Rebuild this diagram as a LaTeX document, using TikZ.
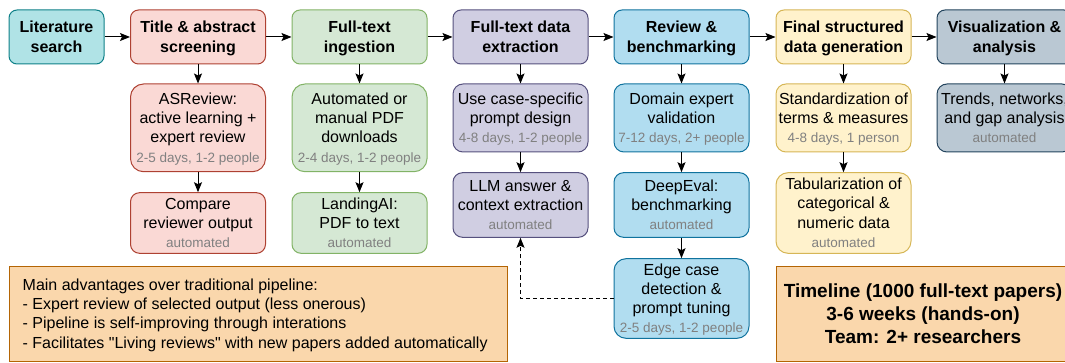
\documentclass[tikz,border=0pt]{standalone}
\usepackage{fontspec}
\setmainfont{Liberation Sans}[Ligatures=TeXOff]
\usetikzlibrary{arrows.meta}

% palette: fill / stroke pairs
\definecolor{tealF}{HTML}{B0E3E6}\definecolor{tealD}{HTML}{0E8088}
\definecolor{redF}{HTML}{FAD9D5}\definecolor{redD}{HTML}{AE4132}
\definecolor{greenF}{HTML}{D5E8D4}\definecolor{greenD}{HTML}{82B366}
\definecolor{purpleF}{HTML}{D0CEE2}\definecolor{purpleD}{HTML}{56517E}
\definecolor{blueF}{HTML}{B1DDF0}\definecolor{blueD}{HTML}{10739E}
\definecolor{yellowF}{HTML}{FFF2CC}\definecolor{yellowD}{HTML}{D6B656}
\definecolor{slateF}{HTML}{BAC8D3}\definecolor{slateD}{HTML}{23445D}
\definecolor{orangeF}{HTML}{FAD7AC}\definecolor{orangeD}{HTML}{B46504}
\definecolor{subgray}{HTML}{808080}

% line strut: fixes first-baseline and last-depth of a text block
\newcommand\ls{\rule[-4.1pt]{0pt}{19.2pt}}
% small grey effort line under a step description
\newcommand\subline[1]{{\color{subgray}\fontsize{13.5}{19.2}\selectfont #1}}

\begin{document}
\begin{tikzpicture}[x=1pt,y=-1pt,
  box/.style={draw, line width=1pt, align=center, inner sep=0pt,
    font=\fontsize{16}{19.2}\selectfont, text=black},
  stage/.style={box, font=\bfseries\fontsize{16}{19.2}\selectfont,
    minimum width=135pt, minimum height=54pt, rounded corners=8pt},
  task/.style={box, minimum width=135pt},
  palTeal/.style={fill=tealF, draw=tealD},
  palRed/.style={fill=redF, draw=redD},
  palGreen/.style={fill=greenF, draw=greenD},
  palPurple/.style={fill=purpleF, draw=purpleD},
  palBlue/.style={fill=blueF, draw=blueD},
  palYellow/.style={fill=yellowF, draw=yellowD},
  palSlate/.style={fill=slateF, draw=slateD},
  palOrange/.style={fill=orangeF, draw=orangeD},
  arr/.style={line width=1pt, -{Stealth[length=10pt,width=8pt,inset=2pt]}},
]
\useasboundingbox (0,0) rectangle (1065,363);

% ---- pipeline stages (top row)
\node[stage, palTeal, minimum width=95pt] (lit) at (56.5,37) {\ls Literature\\search\ls};
\node[stage, palRed] (title) at (198,37) {\ls Title \& abstract\\screening\ls};
\node[stage, palGreen] (ingest) at (359.5,37) {\ls Full-text\\ingestion\ls};
\node[stage, palPurple] (extract) at (520.5,37) {\ls Full-text data\\extraction\ls};
\node[stage, palBlue] (review) at (681.5,37) {\ls Review \&\\benchmarking\ls};
\node[stage, palYellow] (final) at (843.5,37) {\ls Final structured\\data generation\ls};
\node[stage, palSlate] (vis) at (1004.5,37) {\ls Visualization \&\\analysis\ls};

% ---- second row
\node[task, palRed, minimum height=87.7pt, rounded corners=13pt] (asreview) at (198,127.85)
  {\ls ASReview:\\active learning +\\expert review\\\subline{2-5 days, 1-2 people}\ls};
\node[task, palGreen, minimum height=87.7pt, rounded corners=13pt] (pdfdl) at (359.5,127.85)
  {\ls Automated or\\manual PDF\\downloads\\\subline{2-4 days, 1-2 people}\ls};
\node[task, palPurple, minimum height=68pt, rounded corners=10pt] (prompt) at (520.5,118)
  {\ls Use case-specific\\prompt design\\\subline{4-8 days, 1-2 people}\ls};
\node[task, palBlue, minimum height=68pt, rounded corners=10pt] (domain) at (681.5,118)
  {\ls Domain expert\\validation\\\subline{7-12 days, 2+ people}\ls};
\node[task, palYellow, minimum height=68pt, rounded corners=10pt] (standard) at (843.5,118)
  {\ls Standardization of\\terms \& measures\\\subline{4-8 days, 1 person}\ls};
\node[task, palSlate, minimum height=68pt, rounded corners=10pt] (trends) at (1004.5,118)
  {\ls Trends, networks,\\and gap analysis\\\subline{automated}\ls};

% ---- third row
\node[task, palRed, minimum height=60.6pt, rounded corners=9pt] (compare) at (198,223)
  {\ls Compare\\reviewer output\\\subline{automated}\ls};
\node[task, palGreen, minimum height=60.6pt, rounded corners=9pt] (landing) at (359.5,223)
  {\ls LandingAI:\\PDF to text\\\subline{automated}\ls};
\node[task, palPurple, minimum height=64.6pt, rounded corners=9.5pt] (llm) at (520.5,205)
  {\ls LLM answer \&\\context extraction\\\subline{automated}\ls};
\node[task, palBlue, minimum height=64.6pt, rounded corners=9.5pt] (deepeval) at (681.5,205)
  {\ls DeepEval:\\benchmarking\\\subline{automated}\ls};
\node[task, palYellow, minimum height=80.6pt, rounded corners=12pt] (tabular) at (843.5,213)
  {\ls Tabularization of\\categorical \&\\numeric data\\\subline{automated}\ls};

% ---- fourth row
\node[task, palBlue, minimum height=79.6pt, rounded corners=12pt] (edge) at (681.5,298.5)
  {\ls Edge case\\detection \&\\prompt tuning\\\subline{2-5 days, 1-2 people}\ls};

% ---- summary boxes
\node[box, palOrange, minimum width=498pt, minimum height=94.3pt] (advantages) at (258.3,313.85) {};
\node[box, draw=none, align=left, anchor=west] (advtext) at ([xshift=13.4pt]advantages.west)
  {\ls Main advantages over traditional pipeline:\\
   - Expert review of selected output (less onerous)\\
   - Pipeline is self-improving through interations\\
   - Facilitates "Living reviews" with new papers added automatically\ls};
\node[box, palOrange, minimum width=294pt, minimum height=94.3pt,
  font=\bfseries\fontsize{19}{22.8}\selectfont] (timeline) at (923,313.85)
  {Timeline (1000 full-text papers)\\3-6 weeks (hands-on)\\Team: 2+ researchers};

% ---- connectors
\foreach \a/\b in {lit/title, title/ingest, ingest/extract, extract/review,
                   review/final, final/vis,
                   title/asreview, asreview/compare,
                   ingest/pdfdl, pdfdl/landing,
                   extract/prompt, prompt/llm,
                   review/domain, domain/deepeval, deepeval/edge,
                   final/standard, standard/tabular,
                   vis/trends}
  \draw[arr] (\a) -- (\b);

% feedback loop from prompt tuning back to extraction
\draw[arr, dash pattern=on 4pt off 3pt] (edge.west) -| (llm.south);
\end{tikzpicture}
\end{document}
